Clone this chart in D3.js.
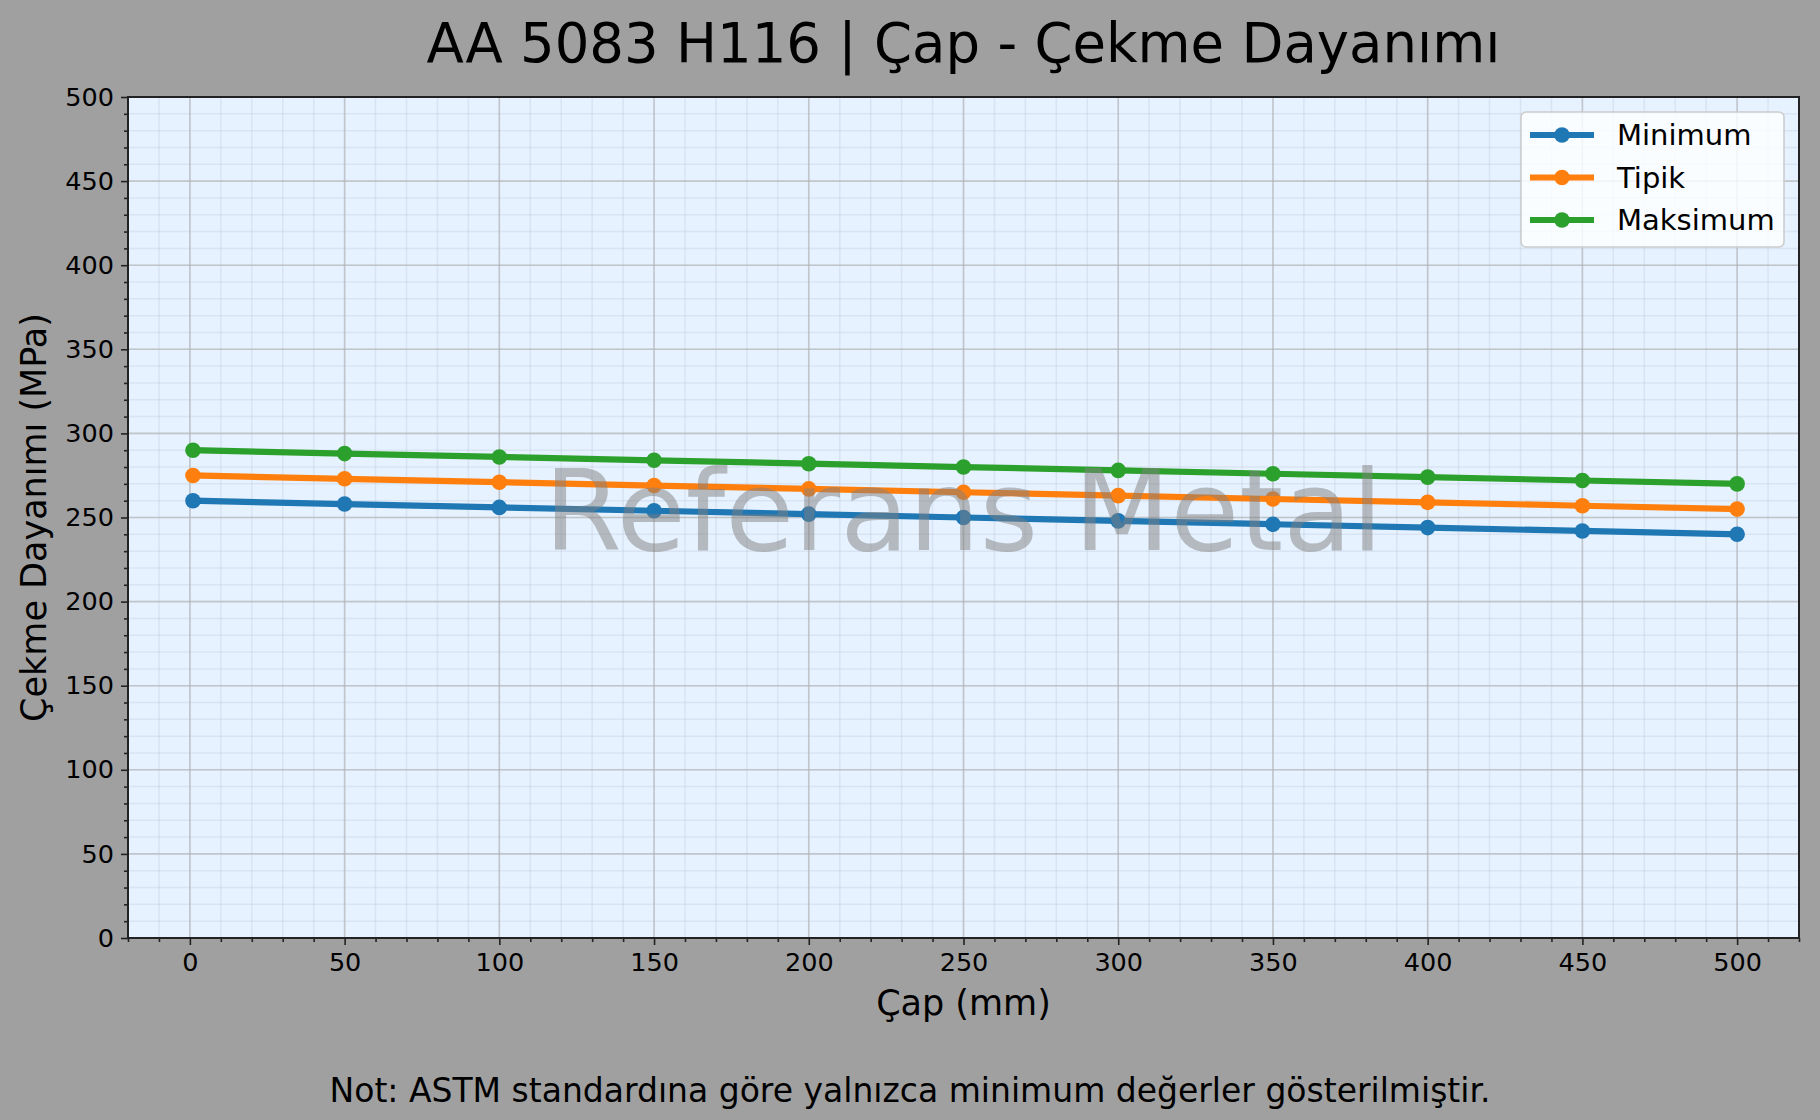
<!DOCTYPE html>
<html>
<head>
<meta charset="utf-8">
<script src="https://cdn.jsdelivr.net/npm/d3@7"></script>
<style>
  html, body { margin: 0; padding: 0; background: #a0a0a0; }
  svg { display: block; font-family: "DejaVu Sans", sans-serif; }
  .tick text { font-family: "DejaVu Sans", sans-serif; }
</style>
</head>
<body>
<div id="chart"></div>
<script>
(function () {

    var W = 1820, H = 1120;

    /* data */
    var diameters = [1, 50, 100, 150, 200, 250, 300, 350, 400, 450, 500];
    var minimum   = [260, 258, 256, 254, 252, 250, 248, 246, 244, 242, 240];
    var tipik     = [275, 273, 271, 269, 267, 265, 263, 261, 259, 257, 255];
    var maksimum  = [290, 288, 286, 284, 282, 280, 278, 276, 274, 272, 270];
    var seriesNames = ["Minimum", "Tipik", "Maksimum"];
    var xTicks = [0, 50, 100, 150, 200, 250, 300, 350, 400, 450, 500];
    var yTicks = [0, 50, 100, 150, 200, 250, 300, 350, 400, 450, 500];

    var COLORS = ["#1f77b4", "#ff7f0e", "#2ca02c"];
    var seriesValues = [minimum, tipik, maksimum];

    /* layout */
    var M = { left: 128, right: 1799, top: 97, bottom: 938 };

    var x = d3.scaleLinear().domain([-20, 520]).range([M.left, M.right]);
    var y = d3.scaleLinear().domain([0, 500]).range([M.bottom, M.top]);

    var svg = d3.select("#chart").append("svg")
        .attr("width", W).attr("height", H);

    svg.append("rect").attr("width", W).attr("height", H).attr("fill", "#a0a0a0");

    /* plot background */
    svg.append("rect")
        .attr("x", M.left).attr("y", M.top)
        .attr("width", M.right - M.left).attr("height", M.bottom - M.top)
        .attr("fill", "#e6f2ff");

    var xMinor = d3.range(-20, 521, 10);
    var yMinor = d3.range(0, 501, 10);

    /* minor grid */
    var grid = svg.append("g");
    grid.selectAll(".gx-minor").data(xMinor).enter().append("line")
        .attr("x1", function (d) { return x(d); }).attr("x2", function (d) { return x(d); })
        .attr("y1", M.top).attr("y2", M.bottom)
        .attr("stroke", "#b8c4d0").attr("stroke-opacity", 0.3).attr("stroke-width", 1.5);
    grid.selectAll(".gy-minor").data(yMinor).enter().append("line")
        .attr("y1", function (d) { return y(d); }).attr("y2", function (d) { return y(d); })
        .attr("x1", M.left).attr("x2", M.right)
        .attr("stroke", "#b8c4d0").attr("stroke-opacity", 0.3).attr("stroke-width", 1.5);

    /* major grid */
    grid.selectAll(".gx").data(xTicks).enter().append("line")
        .attr("x1", function (d) { return x(d); }).attr("x2", function (d) { return x(d); })
        .attr("y1", M.top).attr("y2", M.bottom)
        .attr("stroke", "#b0b0b0").attr("stroke-opacity", 0.6).attr("stroke-width", 1.6);
    grid.selectAll(".gy").data(yTicks).enter().append("line")
        .attr("y1", function (d) { return y(d); }).attr("y2", function (d) { return y(d); })
        .attr("x1", M.left).attr("x2", M.right)
        .attr("stroke", "#b0b0b0").attr("stroke-opacity", 0.6).attr("stroke-width", 1.6);

    /* lines + markers */
    var line = d3.line()
        .x(function (d) { return x(d[0]); })
        .y(function (d) { return y(d[1]); });

    seriesValues.forEach(function (vals, i) {
        var pts = diameters.map(function (dx, j) { return [dx, vals[j]]; });
        svg.append("path")
            .datum(pts)
            .attr("d", line)
            .attr("fill", "none")
            .attr("stroke", COLORS[i])
            .attr("stroke-width", 6.2)
            .attr("stroke-linejoin", "round")
            .attr("stroke-linecap", "square");
        svg.selectAll(".pt" + i).data(pts).enter().append("circle")
            .attr("cx", function (d) { return x(d[0]); })
            .attr("cy", function (d) { return y(d[1]); })
            .attr("r", 7.8)
            .attr("fill", COLORS[i]);
    });

    /* watermark */
    svg.append("text")
        .attr("x", (M.left + M.right) / 2)
        .attr("y", (M.top + M.bottom) / 2 + 32)
        .attr("text-anchor", "middle")
        .attr("font-size", 112)
        .attr("fill", "#808080")
        .attr("fill-opacity", 0.5)
        .text("Referans Metal");

    /* axes */
    var xAxis = svg.append("g")
        .attr("transform", "translate(0," + M.bottom + ")")
        .call(d3.axisBottom(x).tickValues(xTicks).tickSize(7).tickPadding(8).tickFormat(d3.format("d")));
    var xAxisMinor = svg.append("g")
        .attr("transform", "translate(0," + M.bottom + ")")
        .call(d3.axisBottom(x).tickValues(xMinor.filter(function (d) { return d % 50 !== 0; }))
            .tickSize(4).tickFormat(""));
    var yAxis = svg.append("g")
        .attr("transform", "translate(" + M.left + ",0)")
        .call(d3.axisLeft(y).tickValues(yTicks).tickSize(7).tickPadding(7).tickFormat(d3.format("d")));
    var yAxisMinor = svg.append("g")
        .attr("transform", "translate(" + M.left + ",0)")
        .call(d3.axisLeft(y).tickValues(yMinor.filter(function (d) { return d % 50 !== 0; }))
            .tickSize(4).tickFormat(""));

    [xAxis, xAxisMinor, yAxis, yAxisMinor].forEach(function (g) {
        g.select(".domain").remove();
        g.selectAll(".tick line").attr("stroke", "#222").attr("stroke-width", 1.6);
        g.selectAll(".tick text").attr("font-size", 25.5).attr("fill", "#000");
    });

    /* frame */
    svg.append("rect")
        .attr("x", M.left).attr("y", M.top)
        .attr("width", M.right - M.left).attr("height", M.bottom - M.top)
        .attr("fill", "none").attr("stroke", "#222").attr("stroke-width", 2);

    /* titles */
    svg.append("text")
        .attr("x", (M.left + M.right) / 2).attr("y", 62)
        .attr("text-anchor", "middle").attr("font-size", 54.5).attr("fill", "#000")
        .text("AA 5083 H116 | Çap - Çekme Dayanımı");

    svg.append("text")
        .attr("x", (M.left + M.right) / 2).attr("y", 1015)
        .attr("text-anchor", "middle").attr("font-size", 35).attr("fill", "#000")
        .text("Çap (mm)");

    svg.append("text")
        .attr("transform", "translate(46," + ((M.top + M.bottom) / 2) + ") rotate(-90)")
        .attr("text-anchor", "middle").attr("font-size", 35).attr("fill", "#000")
        .text("Çekme Dayanımı (MPa)");

    svg.append("text")
        .attr("x", W / 2).attr("y", 1102)
        .attr("text-anchor", "middle").attr("font-size", 33).attr("fill", "#000")
        .text("Not: ASTM standardına göre yalnızca minimum değerler gösterilmiştir.");

    /* legend */
    var lg = svg.append("g").attr("transform", "translate(1521,112)");
    lg.append("rect")
        .attr("width", 263).attr("height", 135).attr("rx", 5)
        .attr("fill", "#ffffff").attr("fill-opacity", 0.8)
        .attr("stroke", "#cccccc").attr("stroke-width", 1.6);
    seriesNames.forEach(function (name, i) {
        var ry = 23 + i * 42.5;
        lg.append("line")
            .attr("x1", 9).attr("x2", 73).attr("y1", ry).attr("y2", ry)
            .attr("stroke", COLORS[i]).attr("stroke-width", 6.2);
        lg.append("circle").attr("cx", 41).attr("cy", ry).attr("r", 7.8).attr("fill", COLORS[i]);
        lg.append("text")
            .attr("x", 96).attr("y", ry + 10)
            .attr("font-size", 29).attr("fill", "#000")
            .text(name);
    });

}());
</script>
</body>
</html>
